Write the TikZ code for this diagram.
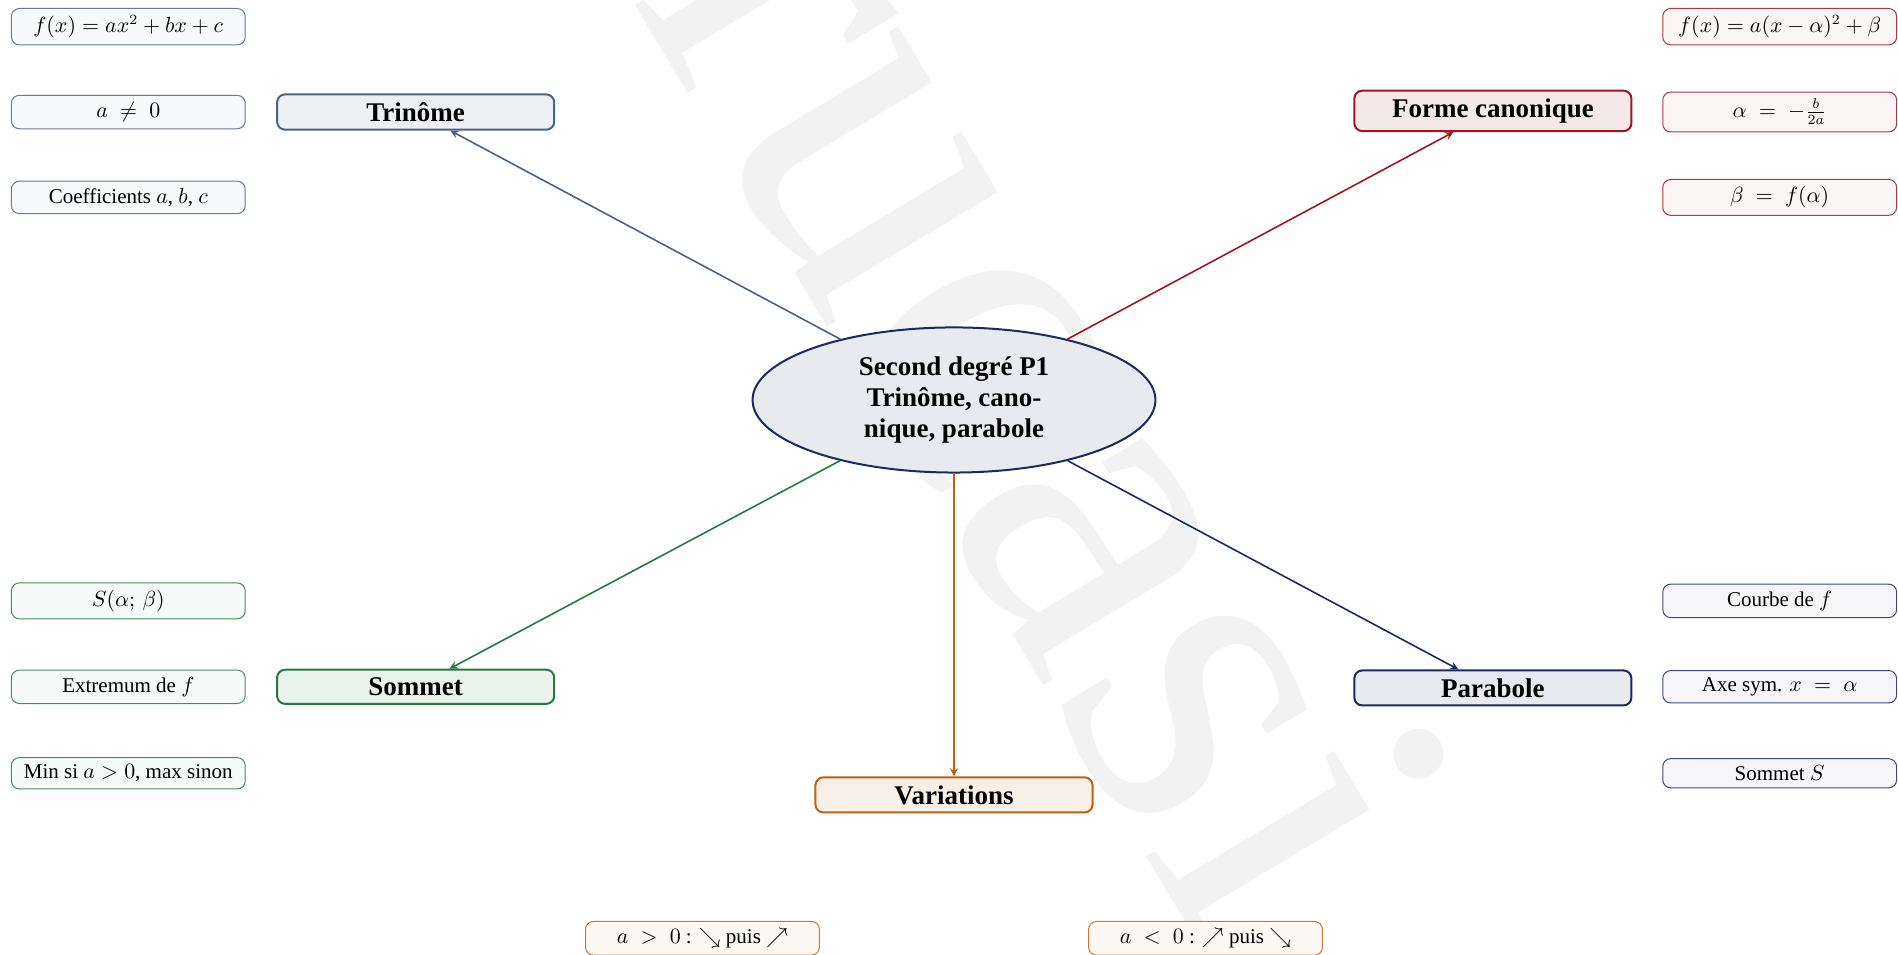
\documentclass[tikz,border=0pt]{standalone}
\usepackage{fontspec}
\setmainfont{Liberation Serif}
\usetikzlibrary{shapes.geometric}

\definecolor{trinomeC}{RGB}{74,98,133}
\definecolor{canoC}{RGB}{160,22,32}
\definecolor{sommetC}{RGB}{38,120,68}
\definecolor{paraC}{RGB}{28,42,96}
\definecolor{variaC}{RGB}{190,96,16}

\begin{document}
\begin{tikzpicture}[
        centre/.style={ellipse, draw=paraC, fill=paraC!10, line width=1pt, minimum width=7.08cm, minimum height=2.55cm, align=center, font=\fontsize{13.5}{15.5}\selectfont\bfseries},
        branche/.style={rectangle, rounded corners=4pt, draw=#1, fill=#1!10, line width=1pt, minimum width=4.87cm, inner ysep=4pt, font=\fontsize{13.5}{16}\selectfont\bfseries},
        feuille/.style={rectangle, rounded corners=4pt, draw=#1!85, fill=#1!4, line width=0.5pt, minimum width=4.11cm, inner ysep=3.5pt, font=\fontsize{10.5}{12.6}\selectfont},
        arrow/.style={->, >=stealth, thick},
        filigrane/.style={text=black!5, rotate=-59, font=\fontsize{235}{235}\selectfont}
    ]

    \useasboundingbox (-16.765,-9.753) rectangle (16.589,7.029);

    % Watermark
    \node[filigrane] (wm) at (1.70,0.0) {rucasi};

    % Centre
    \node[centre] (centre) at (0,0) {Second degré P1\\Trinôme, cano-\\nique, parabole};

    % Branches
    \node[branche=trinomeC] (trinome) at (-9.46,5.06) {Trinôme};
    \node[branche=canoC] (cano) at (9.47,5.08) {Forme canonique};
    \node[branche=sommetC] (sommet) at (-9.46,-5.04) {Sommet};
    \node[branche=paraC] (parabole) at (9.47,-5.06) {Parabole};
    \node[branche=variaC] (variations) at (0,-6.94) {Variations};

    % Trinome leaves
    \node[feuille=trinomeC] (t1) at (-14.51,6.56) {$f(x) = ax^2 + bx + c$};
    \node[feuille=trinomeC] (t2) at (-14.51,5.06) {$a \;\neq\; 0$};
    \node[feuille=trinomeC] (t3) at (-14.51,3.56) {Coefficients $a$, $b$, $c$};

    % Canonical form leaves
    \node[feuille=canoC] (c1) at (14.51,6.56) {$f(x) = a(x-\alpha)^2 + \beta$};
    \node[feuille=canoC] (c2) at (14.51,5.06) {$\alpha \;=\; -\frac{b}{2a}$};
    \node[feuille=canoC] (c3) at (14.51,3.56) {$\beta \;=\; f(\alpha)$};

    % Vertex leaves
    \node[feuille=sommetC] (s1) at (-14.51,-3.53) {$S(\alpha;\,\beta)$};
    \node[feuille=sommetC] (s2) at (-14.51,-5.04) {Extremum de $f$};
    \node[feuille=sommetC] (s3) at (-14.51,-6.56) {Min si $a > 0$, max sinon};

    % Parabola leaves
    \node[feuille=paraC] (p1) at (14.51,-3.53) {Courbe de $f$};
    \node[feuille=paraC] (p2) at (14.51,-5.04) {Axe sym. $x \;=\; \alpha$};
    \node[feuille=paraC] (p3) at (14.51,-6.56) {Sommet $S$};

    % Variations leaves
    \node[feuille=variaC] (v1) at (-4.42,-9.46) {$a \;>\; 0$ : $\searrow$ puis $\nearrow$};
    \node[feuille=variaC] (v2) at (4.42,-9.46) {$a \;<\; 0$ : $\nearrow$ puis $\searrow$};

    % Arrows
    \draw[arrow, trinomeC] (centre) -- (trinome);
    \draw[arrow, canoC] (centre) -- (cano);
    \draw[arrow, sommetC] (centre) -- (sommet);
    \draw[arrow, paraC] (centre) -- (parabole);
    \draw[arrow, variaC] (centre) -- (variations);

\end{tikzpicture}
\end{document}
